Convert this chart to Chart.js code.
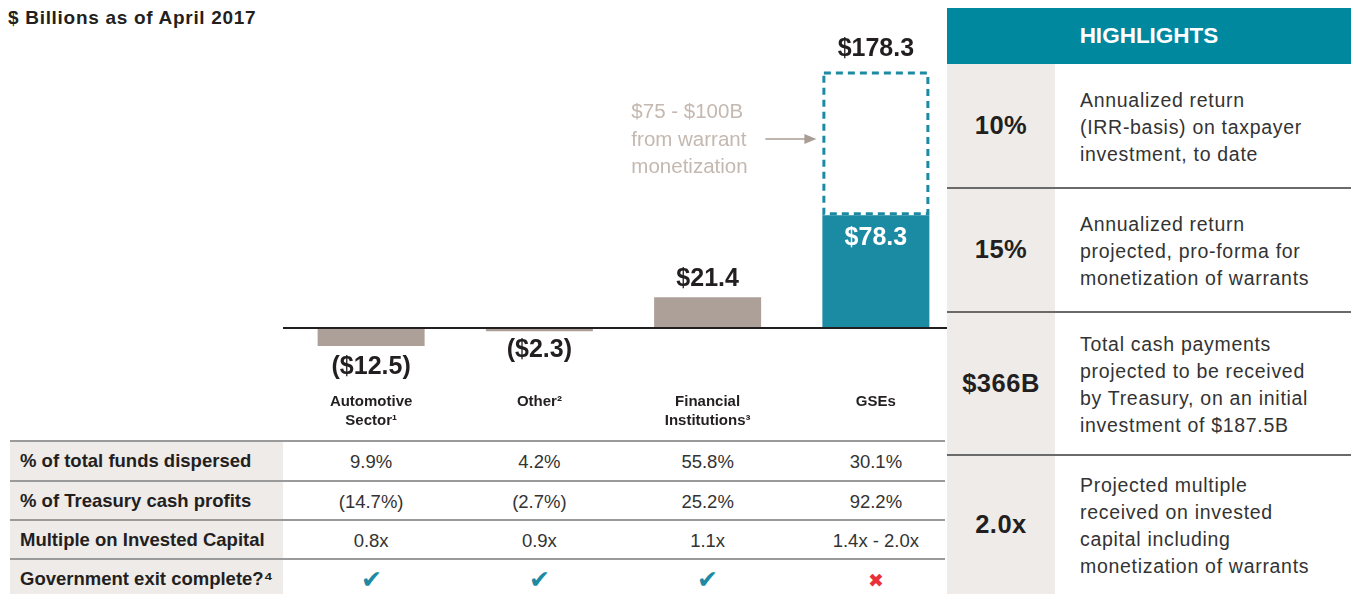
<!DOCTYPE html>
<html>
<head>
<meta charset="utf-8">
<script src="https://cdn.jsdelivr.net/npm/chart.js@4.4.1/dist/chart.umd.min.js"></script>
<style>
  body { margin: 0; background: #fff; font-family: "Liberation Sans", Arial, sans-serif; color: #231f20; }
  #wrap { position: relative; width: 1351px; height: 594px; overflow: hidden; }
  #title { position: absolute; left: 8px; top: 7px; font-size: 19px; letter-spacing: 0.7px; font-weight: bold; }
  #chart-box { position: absolute; left: 283px; top: 0; width: 680px; height: 440px; }
  .tbl-bg { position: absolute; left: 10px; top: 441px; width: 273px; height: 153px; background: #efebe9; }
  .tbl-line { position: absolute; left: 10px; width: 935px; height: 0; border-top: 2px solid #9a9a9a; }
  .tbl-label { position: absolute; left: 20px; font-size: 18.5px; font-weight: bold; }
  .tbl-cell { position: absolute; width: 160px; margin-left: -80px; text-align: center; font-size: 18.5px; color: #333; }
  #hl { position: absolute; left: 947px; top: 0; width: 404px; height: 594px; background: #fff; z-index: 2; }
  #hl-head { position: absolute; left: 0; top: 8px; width: 404px; height: 56px; background: #00889f; color: #fff; font-weight: bold; font-size: 22.5px; text-align: center; line-height: 56px; }
  #hl-left { position: absolute; left: 0; top: 64px; width: 108px; height: 530px; background: #efebe9; }
  .hl-val { position: absolute; left: 0; width: 108px; text-align: center; font-weight: bold; font-size: 25.5px; letter-spacing: 0.5px; }
  .hl-txt { position: absolute; left: 133px; font-size: 19.5px; letter-spacing: 0.7px; line-height: 27px; color: #333; white-space: nowrap; }
  .hl-line { position: absolute; left: 0; width: 404px; height: 0; border-top: 2px solid #6a6a6a; }
</style>
</head>
<body>
<div id="wrap">
  <div id="title">$ Billions as of April 2017</div>
  <div id="chart-box"><canvas id="chart-bar" width="680" height="440"></canvas></div>
  <div class="tbl-bg"></div>
  <div id="table"></div>
  <div id="hl">
    <div id="hl-head">HIGHLIGHTS</div>
    <div id="hl-left"></div>
  </div>
</div>
<script>
// values ($ billions)
let categories = [["Automotive", "Sector¹"], ["Other²"], ["Financial", "Institutions³"], ["GSEs"]]
let netValues = [-12.5, -2.3, 21.4, 78.3]
let warrantValues = [0, 0, 0, 100]
let valueLabels = ["($12.5)", "($2.3)", "$21.4", "$78.3"]
let totalLabel = "$178.3"
let warrantNote = ["$75 - $100B", "from warrant", "monetization"]

let rowLabels = ["% of total funds dispersed", "% of Treasury cash profits", "Multiple on Invested Capital", "Government exit complete?⁴"]
let fundsDispersed = ["9.9%", "4.2%", "55.8%", "30.1%"]
let cashProfits = ["(14.7%)", "(2.7%)", "25.2%", "92.2%"]
let multiples = ["0.8x", "0.9x", "1.1x", "1.4x - 2.0x"]
let exitComplete = [true, true, true, false]

let highlightValues = ["10%", "15%", "$366B", "2.0x"]
let highlightTexts = [
    ["Annualized return", "(IRR-basis) on taxpayer", "investment, to date"],
    ["Annualized return", "projected, pro-forma for", "monetization of warrants"],
    ["Total cash payments", "projected to be received", "by Treasury, on an initial", "investment of $187.5B"],
    ["Projected multiple", "received on invested", "capital including", "monetization of warrants"]
]

let gray = "rgb(173, 160, 152)"
let teal = "rgb(27, 138, 163)"
let dark = "#231f20"

let labelPlugin = {
    id: "labels",
    afterDatasetsDraw(chart) {
        let ctx = chart.ctx
        let yScale = chart.scales.y
        let xScale = chart.scales.x
        let zero = yScale.getPixelForValue(0)
        let net = chart.getDatasetMeta(0).data
        let warrant = chart.getDatasetMeta(1).data[3]

        ctx.save()
        // dashed box for the warrant piece
        let l = warrant.x - warrant.width / 2
        ctx.strokeStyle = teal
        ctx.lineWidth = 3
        ctx.setLineDash([7, 5])
        ctx.strokeRect(l + 1.5, warrant.y + 1.5, warrant.width - 3, warrant.base - warrant.y - 3)
        ctx.setLineDash([])

        // zero line
        ctx.strokeStyle = dark
        ctx.lineWidth = 2
        ctx.beginPath()
        ctx.moveTo(0, zero)
        ctx.lineTo(664, zero)
        ctx.stroke()

        // value labels
        ctx.font = "bold 25px 'Liberation Sans', Arial"
        ctx.textAlign = "center"
        net.forEach((bar, i) => {
            if (netValues[i] < 0) {
                ctx.fillStyle = dark
                ctx.textBaseline = "top"
                ctx.fillText(valueLabels[i], bar.x, bar.y + (i === 0 ? 9 : 6))
            } else if (warrantValues[i] > 0) {
                ctx.fillStyle = "#fff"
                ctx.textBaseline = "top"
                ctx.fillText(valueLabels[i], bar.x, bar.y + 10)
            } else {
                ctx.fillStyle = dark
                ctx.textBaseline = "bottom"
                ctx.fillText(valueLabels[i], bar.x, bar.y - 6)
            }
        })
        ctx.fillStyle = dark
        ctx.textBaseline = "bottom"
        ctx.fillText(totalLabel, warrant.x, warrant.y - 10)

        // note + arrow
        let arrowY = yScale.getPixelForValue(netValues[3] + warrantValues[3] * 0.53)
        ctx.font = "20.5px 'Liberation Sans', Arial"
        ctx.fillStyle = "rgb(196, 184, 176)"
        ctx.textAlign = "left"
        ctx.textBaseline = "middle"
        warrantNote.forEach((t, k) => {
            ctx.fillText(t, l - 191, arrowY + 1 + (k - 1) * 27.5)
        })
        ctx.strokeStyle = "rgb(170, 157, 149)"
        ctx.fillStyle = "rgb(170, 157, 149)"
        ctx.lineWidth = 1.5
        ctx.beginPath()
        ctx.moveTo(l - 57, arrowY)
        ctx.lineTo(l - 15, arrowY)
        ctx.stroke()
        ctx.beginPath()
        ctx.moveTo(l - 6, arrowY)
        ctx.lineTo(l - 18, arrowY - 5)
        ctx.lineTo(l - 18, arrowY + 5)
        ctx.closePath()
        ctx.fill()

        // category labels
        ctx.font = "bold 15px 'Liberation Sans', Arial"
        ctx.fillStyle = dark
        ctx.textAlign = "center"
        categories.forEach((c, i) => {
            let x = xScale.getPixelForValue(i)
            c.forEach((line, k) => ctx.fillText(line, x, 402 + k * 19))
        })
        ctx.restore()
    }
}

let barChart = new Chart(
    document.getElementById("chart-bar").getContext('2d'),
    {
        type: "bar",
        data: {
            labels: categories.map(c => c.join(" ")),
            datasets: [{
                data: netValues,
                backgroundColor: netValues.map((v, i) => warrantValues[i] > 0 ? teal : gray),
                barPercentage: 0.636,
                categoryPercentage: 1,
                stack: "s"
            }, {
                data: warrantValues,
                backgroundColor: "rgba(255,255,255,0)",
                barPercentage: 0.636,
                categoryPercentage: 1,
                stack: "s"
            }]
        },
        options: {
            responsive: false,
            animation: false,
            layout: { padding: { top: 33, left: 4, right: 3, bottom: 0 } },
            scales: {
                x: { display: false, stacked: true },
                y: { display: false, stacked: true, min: -77.8, max: 205 }
            },
            plugins: {
                legend: { display: false },
                tooltip: { enabled: false }
            }
        },
        plugins: [labelPlugin]
    }
)

// table under the chart, columns lined up with the x scale
let table = document.getElementById("table")
let rowTops = [441, 481, 520, 559]
let rows = [fundsDispersed, cashProfits, multiples, exitComplete]
rowTops.forEach((top, r) => {
    table.insertAdjacentHTML("beforeend", `<div class="tbl-line" style="top:${top - 1}px"></div>`)
    table.insertAdjacentHTML("beforeend", `<div class="tbl-label" style="top:${top + 9}px">${rowLabels[r]}</div>`)
    rows[r].forEach((v, i) => {
        let x = 283 + barChart.scales.x.getPixelForValue(i)
        let txt = v
        let style = ""
        if (v === true) { txt = "✔"; style = "color:" + teal + ";font-size:25px;margin-top:-4px;" }
        if (v === false) { txt = "✖"; style = "color:#e8313a;font-size:19px;" }
        table.insertAdjacentHTML("beforeend", `<div class="tbl-cell" style="left:${x}px;top:${top + 10}px;${style}">${txt}</div>`)
    })
})

// highlights panel
let hl = document.getElementById("hl")
let hlTops = [64, 188, 312, 455]
let hlBottoms = [188, 312, 455, 594]
highlightValues.forEach((v, i) => {
    let mid = (hlTops[i] + hlBottoms[i]) / 2
    if (i > 0) hl.insertAdjacentHTML("beforeend", `<div class="hl-line" style="top:${hlTops[i] - 1}px"></div>`)
    hl.insertAdjacentHTML("beforeend", `<div class="hl-val" style="top:${mid - 15}px">${v}</div>`)
    let h = highlightTexts[i].length * 27
    hl.insertAdjacentHTML("beforeend", `<div class="hl-txt" style="top:${mid - h / 2 + 1}px">${highlightTexts[i].join("<br>")}</div>`)
})
</script>
</body>
</html>
